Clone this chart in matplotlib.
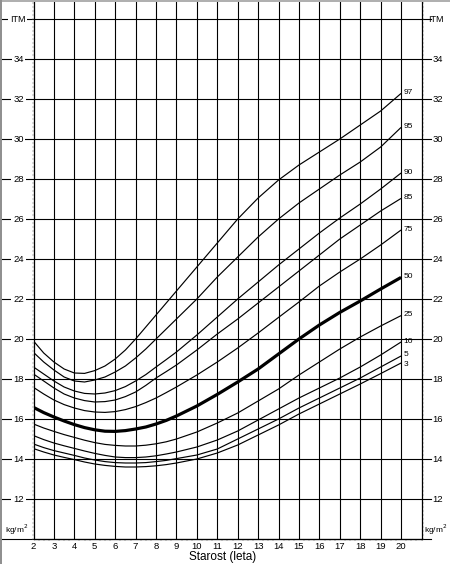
import matplotlib
matplotlib.use('Agg')
import matplotlib.pyplot as plt
from matplotlib.patches import Rectangle
from matplotlib.ticker import MultipleLocator

plt.rcParams['font.family'] = ['Liberation Sans', 'DejaVu Sans']

# ages (years) and BMI percentile curves (kg/m2)
ages = [2, 2.5, 3, 3.5, 4, 4.5, 5, 5.5, 6, 6.5, 7, 7.5, 8, 8.5, 9,
        10, 11, 12, 13, 14, 15, 16, 17, 18, 19, 20]
p3 = [14.52, 14.35, 14.2, 14.08, 13.97, 13.85, 13.75, 13.68, 13.63, 13.6, 13.6, 13.62, 13.66, 13.72, 13.8,
      14.0, 14.3, 14.7, 15.2, 15.7, 16.25, 16.75, 17.25, 17.75, 18.27, 18.8]
p5 = [14.75, 14.57, 14.42, 14.3, 14.18, 14.05, 13.95, 13.87, 13.82, 13.8, 13.8, 13.82, 13.87, 13.93, 14.02,
      14.2, 14.5, 15.0, 15.5, 16.0, 16.55, 17.05, 17.55, 18.05, 18.6, 19.15]
p10 = [15.17, 14.97, 14.8, 14.66, 14.53, 14.4, 14.28, 14.18, 14.1, 14.07, 14.07, 14.1, 14.16, 14.25, 14.35,
       14.6, 14.95, 15.4, 15.95, 16.5, 17.05, 17.55, 18.05, 18.6, 19.2, 19.85]
p25 = [15.75, 15.55, 15.38, 15.22, 15.08, 14.94, 14.82, 14.73, 14.68, 14.65, 14.65, 14.69, 14.76, 14.86, 15.0,
       15.35, 15.8, 16.3, 16.9, 17.5, 18.2, 18.85, 19.5, 20.1, 20.65, 21.17]
p50 = [16.58, 16.32, 16.1, 15.9, 15.72, 15.57, 15.46, 15.39, 15.38, 15.42, 15.5, 15.6, 15.75, 15.93, 16.15,
       16.65, 17.23, 17.85, 18.5, 19.25, 20.0, 20.7, 21.33, 21.9, 22.5, 23.08]
p75 = [17.58, 17.25, 16.95, 16.72, 16.55, 16.42, 16.35, 16.33, 16.37, 16.47, 16.62, 16.82, 17.05, 17.32, 17.6,
       18.2, 18.85, 19.55, 20.3, 21.08, 21.85, 22.65, 23.35, 24.0, 24.7, 25.45]
p85 = [18.25, 17.9, 17.55, 17.25, 17.05, 16.92, 16.85, 16.87, 16.95, 17.12, 17.35, 17.68, 18.05, 18.37, 18.7,
       19.45, 20.25, 21.0, 21.8, 22.6, 23.4, 24.2, 25.0, 25.7, 26.4, 27.03]
p90 = [18.6, 18.25, 17.9, 17.6, 17.4, 17.28, 17.25, 17.3, 17.42, 17.62, 17.9, 18.22, 18.6, 18.97, 19.35,
       20.2, 21.1, 22.0, 22.85, 23.7, 24.5, 25.3, 26.05, 26.75, 27.5, 28.3]
p95 = [19.33, 18.85, 18.45, 18.1, 17.9, 17.85, 17.95, 18.1, 18.35, 18.65, 19.05, 19.5, 20.0, 20.5, 21.0,
       22.0, 23.1, 24.1, 25.1, 26.0, 26.8, 27.5, 28.2, 28.85, 29.6, 30.58]
p97 = [19.9, 19.3, 18.85, 18.5, 18.3, 18.28, 18.42, 18.65, 19.0, 19.45, 20.0, 20.6, 21.2, 21.8, 22.4,
       23.6, 24.8, 26.0, 27.05, 27.95, 28.7, 29.35, 30.0, 30.7, 31.4, 32.28]

curves = [('3', p3), ('5', p5), ('10', p10), ('25', p25), ('50', p50),
          ('75', p75), ('85', p85), ('90', p90), ('95', p95), ('97', p97)]

y_labels = list(range(12, 36, 2))
x_labels = list(range(2, 21))

W, H = 450, 564
fig = plt.figure(figsize=(W / 100, H / 100), dpi=100)
fig.patch.set_facecolor('white')

# axes frame: x 33.5..421.5 px, y 0..539 px
ax = fig.add_axes([33.5 / W, 25 / H, 388 / W, 539 / H])
ax.set_xlim(2, 21)
ax.set_ylim(10, 36.95)
px = 388 / 19.0  # pixels per year

# grid lines
for x in range(3, 21):
    ax.axvline(x, color='black', lw=0.8, zorder=1)
x_lo = 2 - 33.5 / px
x_hi = 2 + (431 - 33.5) / px
for y in [10] + y_labels + [36]:
    ax.plot([x_lo, x_hi], [y, y], color='black', lw=0.8, clip_on=False, zorder=1)

# percentile curves with end labels
nudge = {'5': 0.05, '3': -0.1}
for name, vals in curves:
    lw = 2.3 if name == '50' else 0.85
    ax.plot(ages, vals, color='black', lw=lw, zorder=3, solid_capstyle='butt')
    ax.text(20.12, vals[-1] + nudge.get(name, 0.03), name, fontsize=6,
            ha='left', va='center')

# axis labels on both sides
x_left = 2 - (33.5 - 18.5) / px
x_right = 2 + (437.5 - 33.5) / px
box = dict(facecolor='white', edgecolor='none', pad=1.2)
for y in y_labels:
    ax.text(x_left, y, str(y), fontsize=6.8, ha='center', va='center', bbox=box)
    ax.text(x_right, y, str(y), fontsize=6.8, ha='center', va='center')
ax.text(x_left - 0.05, 36, 'ITM', fontsize=6.5, ha='center', va='center', bbox=box)
ax.text(x_right - 0.08, 36, 'ITM', fontsize=6.5, ha='center', va='center')
ax.text(x_left - 0.1, 10.45, 'kg/m$^2$', fontsize=6, ha='center', va='center')
ax.text(x_right - 0.1, 10.45, 'kg/m$^2$', fontsize=6, ha='center', va='center')

# ticks
ax.set_xticks(x_labels)
ax.set_xticklabels([str(a) for a in x_labels], fontsize=6.8)
ax.xaxis.set_minor_locator(MultipleLocator(0.25))
ax.set_yticks(y_labels)
ax.set_yticklabels([])
ax.yaxis.set_minor_locator(MultipleLocator(0.2))
ax.tick_params(which='major', length=0, pad=2.5)
ax.tick_params(which='minor', direction='out', length=1.6, width=0.35,
               color='#707070', left=True, right=True, bottom=True)
for s in ax.spines.values():
    s.set_linewidth(0.9)

fig.text(223 / W, 1 - 557 / H, 'Starost (leta)', fontsize=8.5, ha='center', va='center')

# scan border
fig.patches.append(Rectangle((0, 1 - 2 / H), 1, 2 / H, transform=fig.transFigure,
                             facecolor='#b0b0b0', edgecolor='none'))
fig.patches.append(Rectangle((0, 0), 2 / W, 1, transform=fig.transFigure,
                             facecolor='#909090', edgecolor='none'))

fig.savefig('out.png', dpi=100)
